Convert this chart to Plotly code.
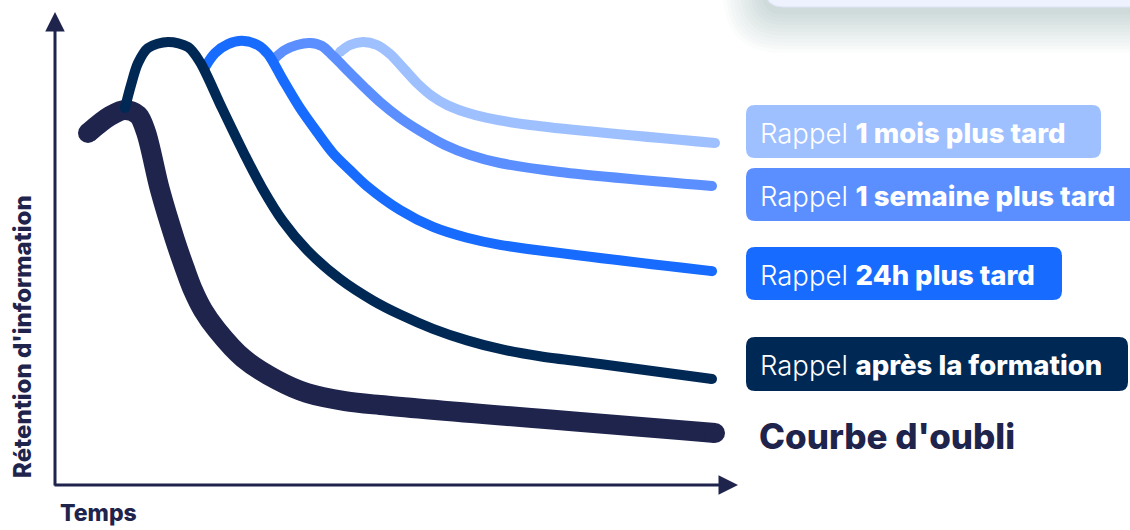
import plotly.graph_objects as go

W, H = 1130, 530

# ---- data (time units, retention %) ----
oubli_t = [4.85, 8.09, 10.29, 12.21, 13.38, 15.44, 17.65, 19.12, 20.29, 21.76, 23.82, 27.65, 32.65, 37.06, 42.65, 47.79, 97.06]
oubli_r = [74.89, 78.51, 79.79, 78.72, 75.11, 62.77, 52.13, 45.96, 41.49, 37.23, 32.98, 27.02, 22.34, 19.57, 17.87, 17.02, 11.06]

apres_t = [10.29, 11.18, 12.21, 13.68, 16.62, 19.56, 21.32, 24.56, 27.94, 30.44, 33.53, 37.06, 41.91, 46.76, 50.74, 55.59, 60.59, 65.44, 71.32, 80.15, 96.62]
apres_r = [80.21, 85.11, 89.79, 92.98, 94.26, 93.19, 90.0, 80.17, 70.13, 63.26, 56.11, 50.0, 43.81, 39.23, 36.26, 33.23, 30.77, 28.94, 27.40, 25.74, 22.55]

h24_t = [22.06, 23.53, 25.44, 27.5, 29.85, 31.32, 33.53, 36.03, 38.53, 40.88, 43.38, 45.88, 50.74, 55.59, 60.59, 65.44, 96.62]
h24_r = [88.9, 91.9, 93.8, 94.5, 93.6, 91.7, 86.2, 80.2, 75.1, 70.6, 67.0, 63.6, 58.5, 54.9, 52.6, 51.1, 45.5]

sem_t = [32.35, 33.82, 35.59, 37.5, 39.26, 40.88, 43.38, 45.59, 47.79, 50.74, 53.68, 57.35, 61.03, 65.44, 74.26, 96.62]
sem_r = [90.85, 92.55, 93.62, 94.04, 93.40, 91.28, 87.66, 84.47, 81.49, 78.09, 75.32, 72.34, 70.21, 68.51, 66.60, 63.62]

mois_t = [41.91, 43.38, 45.29, 47.35, 49.26, 51.47, 53.38, 55.44, 57.65, 60.29, 63.53, 69.85, 97.06]
mois_r = [92.13, 93.62, 94.26, 93.62, 91.70, 88.30, 85.32, 82.77, 80.85, 79.36, 78.09, 76.60, 72.77]

label_bold = ["1 mois plus tard", "1 semaine plus tard", "24h plus tard", "après la formation"]
label_prefix = "Rappel"
oubli_label = "Courbe d'oubli"
x_title = "Temps"
y_title = "Rétention d'information"

NAVY = "#1f244d"
C_APRES = "#002855"
C_24 = "#176bff"
C_SEM = "#5b8fff"
C_MOIS = "#9fc0ff"
FONT = "Inter"

fig = go.Figure()

def add_curve(t, r, color, width):
    fig.add_trace(go.Scatter(x=t, y=r, mode="lines",
                             line=dict(color=color, width=width, shape="spline", smoothing=0.9),
                             hoverinfo="skip", showlegend=False))
    fig.add_trace(go.Scatter(x=[t[0], t[-1]], y=[r[0], r[-1]], mode="markers",
                             marker=dict(color=color, size=width, line=dict(width=0)),
                             hoverinfo="skip", showlegend=False))

add_curve(oubli_t, oubli_r, NAVY, 20)
add_curve(mois_t, mois_r, C_MOIS, 10)
add_curve(sem_t, sem_r, C_SEM, 10)
add_curve(h24_t, h24_r, C_24, 10)
add_curve(apres_t, apres_r, C_APRES, 10)

def px(x):
    return x / W

def py(y):
    return 1 - y / H

def rrect(x0, y0, x1, y1, r):
    rx, ry = r / W, r / H
    X0, X1 = px(x0), px(x1)
    Y0, Y1 = py(y0), py(y1)  # Y0 top, Y1 bottom (paper)
    return (f"M {X0+rx},{Y0} L {X1-rx},{Y0} Q {X1},{Y0} {X1},{Y0-ry} "
            f"L {X1},{Y1+ry} Q {X1},{Y1} {X1-rx},{Y1} L {X0+rx},{Y1} "
            f"Q {X0},{Y1} {X0},{Y1+ry} L {X0},{Y0-ry} Q {X0},{Y0} {X0+rx},{Y0} Z")

shapes = []
# card shadow at top-right
for k in range(12, 0, -1):
    e = k * 3.5
    shapes.append(dict(type="path", xref="paper", yref="paper",
                       path=rrect(765 - e, -40 - e + 8, 1170 + e, 7 + e + 4, 18 + e),
                       fillcolor="rgba(31,36,77,0.016)", line=dict(width=0), layer="below"))
shapes.append(dict(type="path", xref="paper", yref="paper",
                   path=rrect(765, -40, 1170, 7, 18),
                   fillcolor="#eef2fe", line=dict(color="#dfe4f5", width=1), layer="below"))

boxes = [(746, 105, 1101, 158, C_MOIS), (746, 168, 1145, 221, C_SEM),
         (746, 247, 1062, 300, C_24), (746, 337, 1128, 391, C_APRES)]
annotations = []
for (x0, y0, x1, y1, c), bold in zip(boxes, label_bold):
    shapes.append(dict(type="path", xref="paper", yref="paper", path=rrect(x0, y0, x1, y1, 9),
                       fillcolor=c, line=dict(width=0), layer="above"))
    annotations.append(dict(xref="paper", yref="paper", x=px(758), y=py((y0 + y1) / 2 + 1),
                            xanchor="left", yanchor="middle", showarrow=False,
                            text=f"<span style='font-weight:300'>{label_prefix}</span> "
                                 f"<span style='font-weight:800'>{bold}</span>",
                            font=dict(family=FONT, size=27.5, color="white")))

annotations.append(dict(xref="paper", yref="paper", x=px(757), y=py(436), xanchor="left",
                        yanchor="middle", showarrow=False,
                        text=f"<span style='font-weight:800'>{oubli_label}</span>",
                        font=dict(family=FONT, size=35, color=NAVY)))

# axes arrows (tail given as pixel offsets from head)
annotations.append(dict(xref="paper", yref="paper", x=px(55), y=py(12), ax=0, ay=475,
                        showarrow=True, arrowhead=2, arrowsize=1.3, arrowwidth=3,
                        arrowcolor=NAVY, text=""))
annotations.append(dict(xref="paper", yref="paper", x=px(738), y=py(485), ax=-685, ay=0,
                        showarrow=True, arrowhead=2, arrowsize=1.3, arrowwidth=3,
                        arrowcolor=NAVY, text=""))
# axis titles
annotations.append(dict(xref="paper", yref="paper", x=px(98), y=py(529), showarrow=False,
                        xanchor="center", yanchor="bottom",
                        text=f"<span style='font-weight:800'>{x_title}</span>",
                        font=dict(family=FONT, size=23, color=NAVY)))
annotations.append(dict(xref="paper", yref="paper", x=px(22), y=py(337), showarrow=False,
                        xanchor="center", yanchor="middle", textangle=-90,
                        text=f"<span style='font-weight:800'>{y_title}</span>",
                        font=dict(family=FONT, size=24, color=NAVY)))

fig.update_layout(
    width=W, height=H, margin=dict(l=0, r=0, t=0, b=0),
    paper_bgcolor="white", plot_bgcolor="white",
    xaxis=dict(range=[-8.088, 158.088], visible=False, fixedrange=True),
    yaxis=dict(range=[-9.574, 103.191], visible=False, fixedrange=True),
    shapes=shapes, annotations=annotations, hovermode=False,
)

fig.write_html("out.html", config={"displayModeBar": False})
